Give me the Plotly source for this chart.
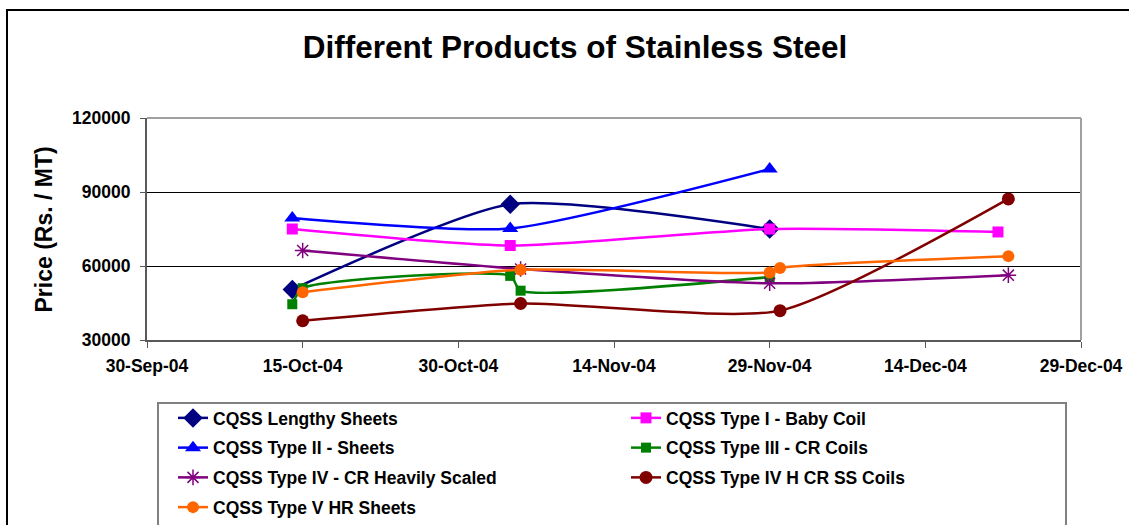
import plotly.graph_objects as go

# data
lengthy_dates = ['2004-10-14', '2004-11-04', '2004-11-29']
lengthy_vals = [50500, 85000, 75000]

baby_dates = ['2004-10-14', '2004-11-04', '2004-11-29', '2004-12-21']
baby_vals = [75000, 68300, 75000, 73800]

type2_dates = ['2004-10-14', '2004-11-04', '2004-11-29']
type2_vals = [79500, 75200, 99300]

type3_dates = ['2004-10-14', '2004-10-15', '2004-11-04', '2004-11-05', '2004-11-29']
type3_vals = [44500, 51000, 56000, 50000, 55500]

type4_dates = ['2004-10-15', '2004-11-05', '2004-11-29', '2004-12-22']
type4_vals = [66300, 58800, 53000, 56300]

type4h_dates = ['2004-10-15', '2004-11-05', '2004-11-30', '2004-12-22']
type4h_vals = [37800, 44800, 41900, 87200]

type5_dates = ['2004-10-15', '2004-11-05', '2004-11-29', '2004-11-30', '2004-12-22']
type5_vals = [49400, 58500, 57400, 59200, 64000]

x_ticks = ['2004-09-30', '2004-10-15', '2004-10-30', '2004-11-14',
           '2004-11-29', '2004-12-14', '2004-12-29']
y_ticks = [30000, 60000, 90000, 120000]

# name, dates, values, colour, symbol, size, legend column
series = [
    ('CQSS Lengthy Sheets', lengthy_dates, lengthy_vals, '#000080', 'diamond', 15, 'legend'),
    ('CQSS Type I - Baby Coil', baby_dates, baby_vals, '#FF00FF', 'square', 11, 'legend2'),
    ('CQSS Type II - Sheets', type2_dates, type2_vals, '#0000FF', 'triangle-up', 14, 'legend'),
    ('CQSS Type III - CR Coils', type3_dates, type3_vals, '#008000', 'square', 10, 'legend2'),
    ('CQSS Type IV - CR Heavily Scaled', type4_dates, type4_vals, '#800080', 'asterisk-open', 13, 'legend'),
    ('CQSS Type IV H CR SS Coils', type4h_dates, type4h_vals, '#800000', 'circle', 13, 'legend2'),
    ('CQSS Type V HR Sheets', type5_dates, type5_vals, '#FF6600', 'circle', 12, 'legend'),
]

font = 'Liberation Sans, Arial, sans-serif'

fig = go.Figure()
for name, xs, ys, col, sym, size, leg in series:
    marker = dict(symbol=sym, size=size, color=col)
    if sym == 'asterisk-open':
        marker['line'] = dict(color=col, width=1.5)
    fig.add_trace(go.Scatter(
        x=xs, y=ys, name=name, mode='lines+markers',
        line=dict(color=col, width=2.5, shape='spline', smoothing=0.6),
        marker=marker, legend=leg, legendgroup=name,
    ))

# screen pixel layout (body margin removed by post_script)
W, H = 1129, 525
L, R, T, B = 147, W - 1081, 118, H - 340
pw, ph = W - L - R, H - T - B

def px(x):
    return (x - L) / pw

def py(y):
    return (H - B - y) / ph

leg_font = dict(size=17.5, family=font, weight='bold')

fig.update_layout(
    width=W, height=H,
    margin=dict(l=L, r=R, t=T, b=B, autoexpand=False),
    paper_bgcolor='white', plot_bgcolor='white',
    font=dict(family=font, size=17.5, color='black', weight='bold'),
    title=dict(text='Different Products of Stainless Steel',
               x=575 / W, y=1 - 47 / H, xref='container', yref='container',
               xanchor='center', yanchor='middle',
               font=dict(size=31.5, family=font, weight='bold')),
    xaxis=dict(type='date', range=['2004-09-30', '2004-12-29'],
               tickvals=x_ticks, tickformat='%d-%b-%y',
               showgrid=False, showline=True, linecolor='#595959', linewidth=2,
               ticks='outside', ticklen=6, tickcolor='#595959', tickwidth=1,
               ticklabelstandoff=3, zeroline=False),
    yaxis=dict(range=[30000, 120000], tickvals=y_ticks, tickformat='d',
               showgrid=True, gridcolor='black', gridwidth=1,
               showline=True, linecolor='#595959', linewidth=2,
               ticks='outside', ticklen=5, tickcolor='#595959', tickwidth=1,
               ticklabelstandoff=6, zeroline=False),
    legend=dict(orientation='v', x=px(173), y=py(400), xanchor='left', yanchor='top',
                bgcolor='rgba(0,0,0,0)', borderwidth=0, tracegroupgap=4,
                font=leg_font),
    legend2=dict(orientation='v', x=px(626), y=py(400), xanchor='left', yanchor='top',
                 bgcolor='rgba(0,0,0,0)', borderwidth=0, tracegroupgap=4,
                 font=leg_font),
    showlegend=True,
    annotations=[dict(text='Price (Rs. / MT)', textangle=-90, showarrow=False,
                      xref='paper', yref='paper', x=px(43), y=py(229.5),
                      xanchor='center', yanchor='middle',
                      font=dict(size=23, family=font, weight='bold'))],
    shapes=[
        dict(type='line', xref='paper', yref='paper', x0=0, x1=1, y0=1, y1=1,
             line=dict(color='#a0a0a0', width=2)),
        dict(type='line', xref='paper', yref='paper', x0=1, x1=1, y0=0, y1=1,
             line=dict(color='#a0a0a0', width=2)),
        dict(type='rect', xref='paper', yref='paper', x0=px(158), x1=px(1066),
             y0=py(560), y1=py(403), line=dict(color='#808080', width=2)),
        dict(type='rect', xref='paper', yref='paper', x0=px(7), x1=px(1140),
             y0=py(540), y1=py(10), line=dict(color='black', width=2)),
    ],
)

fig.write_html('out.html', config={'displayModeBar': False},
               post_script="document.body.style.margin='0';")
